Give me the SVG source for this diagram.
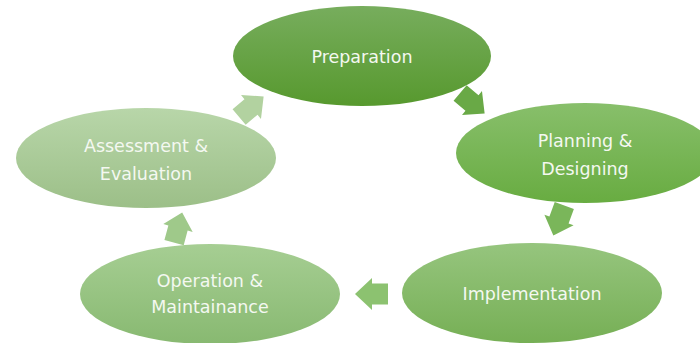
<svg xmlns="http://www.w3.org/2000/svg" width="700" height="343" viewBox="0 0 700 343">
<defs>
<linearGradient id="g1" x1="0" y1="0" x2="0" y2="1"><stop offset="0" stop-color="#77ad5d"/><stop offset="1" stop-color="#57992e"/></linearGradient>
<linearGradient id="g2" x1="0" y1="0" x2="0" y2="1"><stop offset="0" stop-color="#88bf6b"/><stop offset="1" stop-color="#68ac41"/></linearGradient>
<linearGradient id="g3" x1="0" y1="0" x2="0" y2="1"><stop offset="0" stop-color="#96c57e"/><stop offset="1" stop-color="#76af55"/></linearGradient>
<linearGradient id="g4" x1="0" y1="0" x2="0" y2="1"><stop offset="0" stop-color="#a6ce93"/><stop offset="1" stop-color="#88b971"/></linearGradient>
<linearGradient id="g5" x1="0" y1="0" x2="0" y2="1"><stop offset="0" stop-color="#b8d6a9"/><stop offset="1" stop-color="#9cbf88"/></linearGradient>
<polygon id="arr" points="-16,-10.5 0,-10.5 0,-16 17,0 0,16 0,10.5 -16,10.5"/>
</defs>
<style>
text{font-family:"DejaVu Sans",Verdana,sans-serif;font-size:17.5px;fill:#f4f8f1;text-anchor:middle}
</style>
<rect width="700" height="343" fill="#ffffff"/>
<g id="connectors">
<use href="#arr" transform="translate(472,103) rotate(40) scale(0.97)" fill="#69a946"/>
<use href="#arr" transform="translate(559,220) rotate(110) scale(0.97)" fill="#7ab65a"/>
<use href="#arr" transform="translate(372,294) rotate(180)" fill="#8cc270"/>
<use href="#arr" transform="translate(178,228) rotate(-75) scale(0.95)" fill="#9fc98a"/>
<use href="#arr" transform="translate(251,107) rotate(-40) scale(0.97)" fill="#b2d2a0"/>
</g>
<g id="preparation">
<ellipse cx="362" cy="56" rx="129" ry="50" fill="url(#g1)"/>
<text x="362" y="63">Preparation</text>
</g>
<g id="planning">
<ellipse cx="585" cy="153" rx="129" ry="50" fill="url(#g2)"/>
<text x="585" y="147">Planning &amp;</text>
<text x="585" y="175">Designing</text>
</g>
<g id="implementation">
<ellipse cx="532" cy="293" rx="130" ry="50" fill="url(#g3)"/>
<text x="532" y="300">Implementation</text>
</g>
<g id="operation">
<ellipse cx="210" cy="294" rx="130" ry="50" fill="url(#g4)"/>
<text x="210" y="287">Operation &amp;</text>
<text x="210" y="313">Maintainance</text>
</g>
<g id="assessment">
<ellipse cx="146" cy="158" rx="130" ry="50" fill="url(#g5)"/>
<text x="146" y="152">Assessment &amp;</text>
<text x="146" y="180">Evaluation</text>
</g>
</svg>
